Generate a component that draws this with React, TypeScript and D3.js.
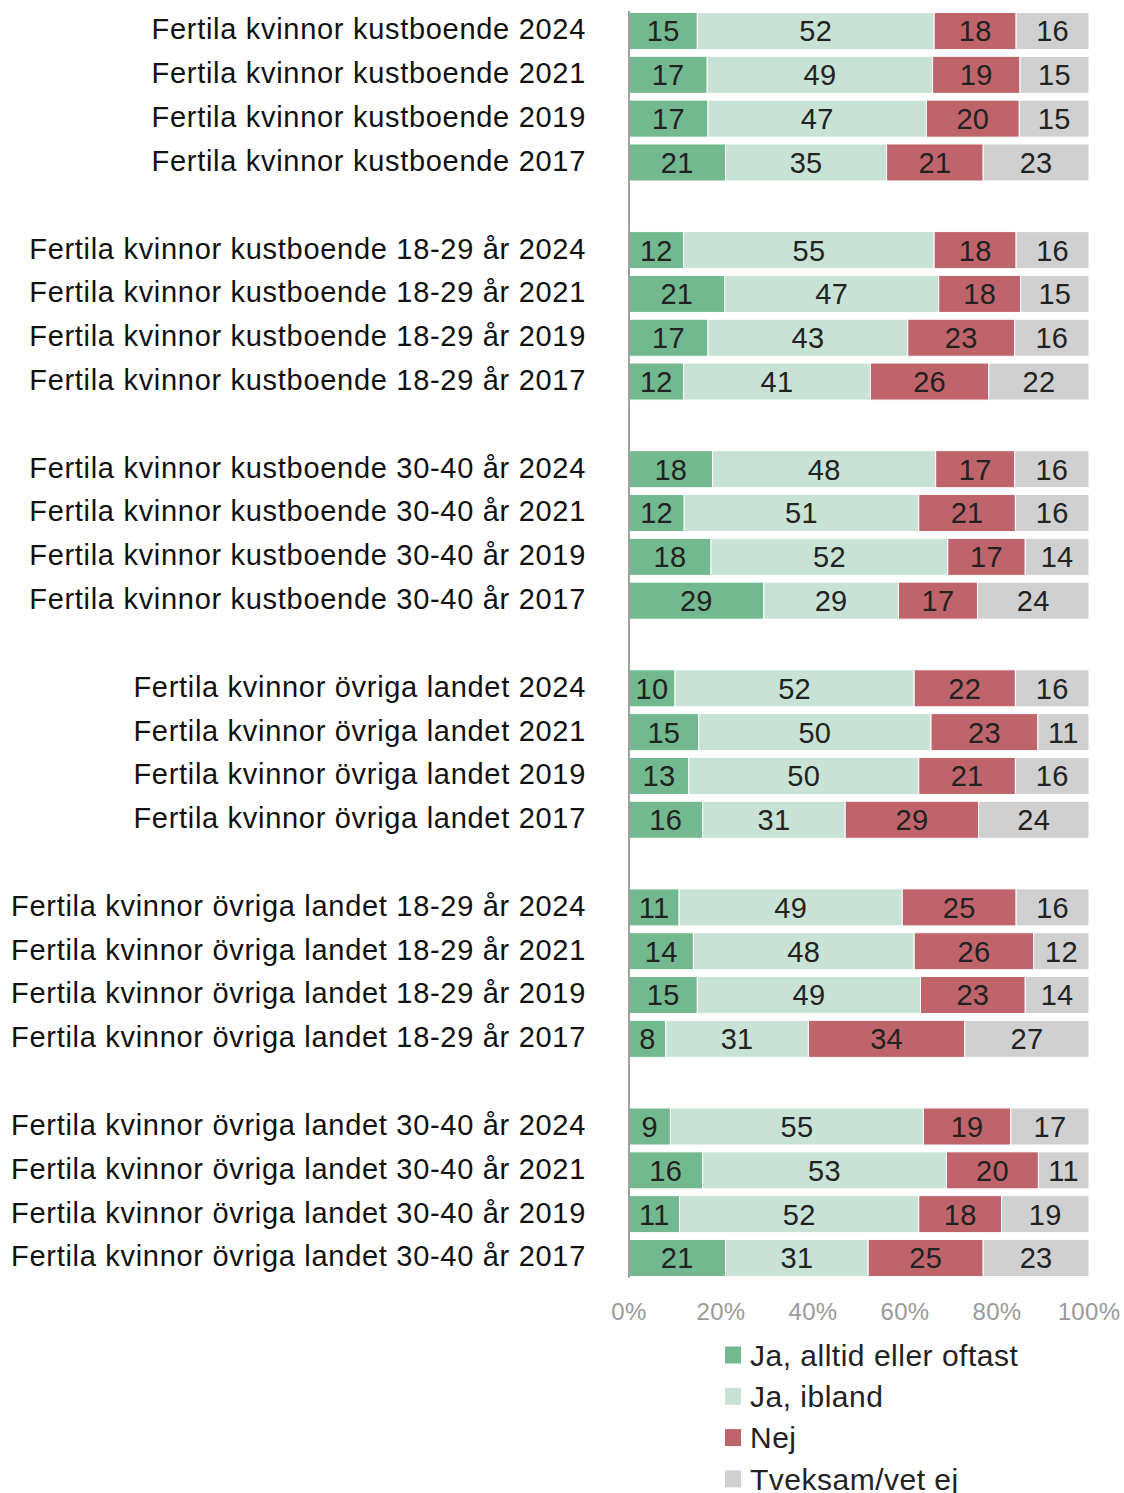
import React from "react";
import * as d3 from "d3";

const seriesNames = ["Ja, alltid eller oftast", "Ja, ibland", "Nej", "Tveksam/vet ej"];
const colors = ["#73B98F", "#C8E3D5", "#C0646C", "#D0D0D0"];

const groups = [
  "Fertila kvinnor kustboende",
  "Fertila kvinnor kustboende 18-29 år",
  "Fertila kvinnor kustboende 30-40 år",
  "Fertila kvinnor övriga landet",
  "Fertila kvinnor övriga landet 18-29 år",
  "Fertila kvinnor övriga landet 30-40 år",
];
const years = ["2024", "2021", "2019", "2017"];

const jaAlltid = [15, 17, 17, 21, 12, 21, 17, 12, 18, 12, 18, 29, 10, 15, 13, 16, 11, 14, 15, 8, 9, 16, 11, 21];
const jaIbland = [52, 49, 47, 35, 55, 47, 43, 41, 48, 51, 52, 29, 52, 50, 50, 31, 49, 48, 49, 31, 55, 53, 52, 31];
const nej = [18, 19, 20, 21, 18, 18, 23, 26, 17, 21, 17, 17, 22, 23, 21, 29, 25, 26, 23, 34, 19, 20, 18, 25];
const tveksam = [16, 15, 15, 23, 16, 15, 16, 22, 16, 16, 14, 24, 16, 11, 16, 24, 16, 12, 14, 27, 17, 11, 19, 23];

const ticks = [0, 0.2, 0.4, 0.6, 0.8, 1];

export default function App() {
  const W = 1124, H = 1493;
  const x0 = 629, x1 = 1089;
  const x = d3.scaleLinear().domain([0, 1]).range([x0, x1]);

  const slots: { key: string; label: string | null; idx: number }[] = [];
  groups.forEach((g, gi) => {
    years.forEach((y, yi) => {
      slots.push({ key: `${gi}-${yi}`, label: `${g} ${y}`, idx: gi * 4 + yi });
    });
    if (gi < groups.length - 1) slots.push({ key: `gap-${gi}`, label: null, idx: -1 });
  });
  const step = 43.82;
  const yTop = 31 - step / 2;
  const yScale = d3
    .scaleBand<string>()
    .domain(slots.map((s) => s.key))
    .range([yTop, yTop + slots.length * step])
    .paddingInner(0.155)
    .paddingOuter(0.0775);

  const rows = slots.filter((s) => s.label !== null);
  const allSeries = [jaAlltid, jaIbland, nej, tveksam];
  const stackData = rows.map((r) => {
    const vals = allSeries.map((s) => s[r.idx]);
    const sum = d3.sum(vals);
    const obj: any = { key: r.key, label: r.label, raw: vals };
    seriesNames.forEach((n, i) => (obj[n] = vals[i] / sum));
    return obj;
  });
  const stacked = d3.stack<any>().keys(seriesNames)(stackData);

  const font = "'Liberation Sans', Arial, sans-serif";
  const bw = yScale.bandwidth();
  const axisBottom = (yScale(rows[rows.length - 1].key) as number) + bw + 1;

  return (
    <svg width={W} height={H} style={{ position: "absolute", left: 0, top: 0 }} fontFamily={font}>
      <rect width={W} height={H} fill="#fff" />
      {stacked.map((layer, li) => (
        <g key={layer.key}>
          {layer.map((d, i) => {
            const yy = yScale(d.data.key) as number;
            const xa = x(d[0]);
            const xb = x(d[1]);
            return (
              <g key={i}>
                <rect x={xa} y={yy} width={xb - xa} height={bw} fill={colors[li]} stroke="#fff" strokeWidth={1} />
                <text
                  x={(xa + xb) / 2}
                  y={yy + bw / 2}
                  dy="0.36em"
                  textAnchor="middle"
                  fontSize={29}
                  letterSpacing={0.3}
                  fill="#222"
                >
                  {d.data.raw[li]}
                </text>
              </g>
            );
          })}
        </g>
      ))}
      {rows.map((r) => (
        <text
          key={r.key}
          x={586}
          y={(yScale(r.key) as number) + bw / 2 - 2}
          dy="0.36em"
          textAnchor="end"
          fontSize={29}
          letterSpacing={0.7}
          fill="#111"
        >
          {r.label}
        </text>
      ))}
      <line x1={x0} x2={x0} y1={yTop + 2} y2={axisBottom} stroke="#A0A0A0" strokeWidth={2} />
      {ticks.map((t) => (
        <text key={t} x={x(t)} y={1311} dy="0.36em" textAnchor="middle" fontSize={24} letterSpacing={0.3} fill="#9A9A9A">
          {d3.format(".0%")(t)}
        </text>
      ))}
      {seriesNames.map((n, i) => (
        <g key={n} transform={`translate(725, ${1355 + i * 41.3})`}>
          <rect x={0} y={-8.5} width={16} height={17} fill={colors[i]} />
          <text x={25} y={0} dy="0.36em" fontSize={30} letterSpacing={0.5} fill="#222">
            {n}
          </text>
        </g>
      ))}
    </svg>
  );
}
